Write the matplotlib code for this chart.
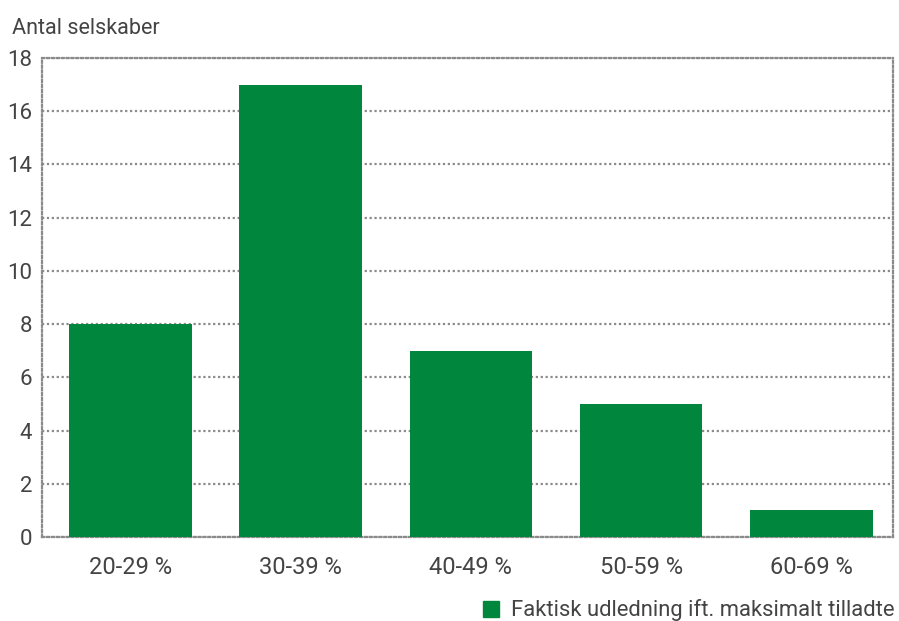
import matplotlib.pyplot as plt
from matplotlib.patches import Patch

kategorier = ["20-29 %", "30-39 %", "40-49 %", "50-59 %", "60-69 %"]
antal = [8, 17, 7, 5, 1]
yticks = [0, 2, 4, 6, 8, 10, 12, 14, 16, 18]

plt.rcParams['font.family'] = ['Roboto', 'DejaVu Sans']
groen = '#00873d'
tekst = '#444444'
prik = '#8a8a8a'

fig = plt.figure(figsize=(8.99, 6.21), dpi=100)
ax = fig.add_axes([42/899, 1 - 537/621, (893-42)/899, (537-58)/621])

ax.bar(range(len(kategorier)), antal, width=0.72, color=groen, zorder=3)
ax.set_xlim(-0.52, 4.48)
ax.set_ylim(0, 18)
ax.set_yticks(yticks)
ax.set_xticks(range(len(kategorier)))
ax.set_xticklabels(kategorier)
ax.tick_params(length=0, colors=tekst)
ax.tick_params(axis='x', pad=14, labelsize=17)
ax.tick_params(axis='y', pad=7, labelsize=16)

ax.grid(axis='y', color=prik, linestyle=(0, (1, 1.2)), linewidth=1.6, zorder=1)
for s in ax.spines.values():
    s.set_color(prik)
    s.set_linestyle((0, (1, 1.2)))
    s.set_linewidth(1.6)

fig.text(12/899, 1 - 28/621, "Antal selskaber", fontsize=15.5, color=tekst, va='center')

ax.legend(handles=[Patch(color=groen, label="Faktisk udledning ift. maksimalt tilladte")],
          loc='center right', bbox_to_anchor=(1.015, -0.153), frameon=False,
          fontsize=15.8, handlelength=0.75, handleheight=0.75, handletextpad=0.55,
          labelcolor=tekst, borderpad=0)

fig.savefig("out.png", dpi=100)
